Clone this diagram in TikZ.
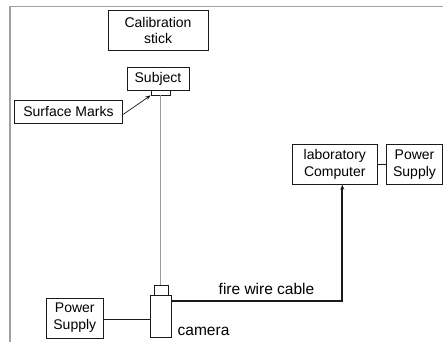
\documentclass[tikz,border=0pt]{standalone}
\usepackage{fontspec}
\setmainfont{Liberation Sans}
\usetikzlibrary{arrows.meta,positioning,calc}
\definecolor{ink}{HTML}{1A1A1A}
\definecolor{frame}{HTML}{A0A0A0}
\definecolor{rod}{HTML}{9C9C9C}

\begin{document}
\begin{tikzpicture}[
    x=1pt, y=-1pt,
    >={Stealth[length=5pt,width=4pt]},
    box/.style={draw=ink, line width=0.9pt, inner sep=0pt, align=center,
                font=\fontsize{14}{17}\selectfont},
    lbl/.style={inner sep=0pt, font=\fontsize{15.5}{18}\selectfont},
  ]
\useasboundingbox (0,0) rectangle (443,342);

% page frame
\draw[frame, line width=1.2pt] (443,6.7) -- (10,6.7) -- (10,342);

% calibration and subject
\node[box, minimum width=100pt, minimum height=40pt,
      font=\fontsize{14}{15.5}\selectfont] (calib) at (158,30.3)
  {Calibration\\stick};
\node[box, minimum width=62pt, minimum height=23pt] (subject) at (158,78.5)
  {Subject};
\node[box, minimum width=19pt, minimum height=5pt] (marks) at (160.5,92.5) {};
\node[box, minimum width=108.5pt, minimum height=23pt] (surface)
  at (68.5,111.7) {Surface Marks};
\draw[->, ink, line width=0.7pt] ([yshift=-2.7pt]surface.east)
  -- (marks.south west);

% camera
\node[box, minimum width=14pt, minimum height=10pt] (camtop) at (161,290) {};
\node[box, minimum width=21pt, minimum height=42pt] (camera) at (160.5,316) {};
\node[lbl, anchor=west] (camlbl) at (177.5,331.5) {camera};
\draw[rod, line width=1.8pt] (marks.south) -- (marks.south |- camtop.north);

% power supplies
\node[box, minimum width=57pt, minimum height=40pt] (pscam) at (74.8,318)
  {Power\\Supply};
\draw[ink, line width=0.8pt] ([yshift=-1pt]pscam.east)
  -- ([yshift=-1pt]pscam.east -| camera.west);

\node[box, minimum width=85pt, minimum height=40pt] (computer) at (334.8,164.3)
  {laboratory\\Computer};
\node[box, minimum width=56pt, minimum height=40pt] (pscomp) at (414.5,164.3)
  {Power\\Supply};
\draw[ink, line width=0.8pt] (computer.east) -- (pscomp.west);

% fire wire cable
\draw[->, ink, line width=1.9pt] ([yshift=-6pt]camera.north east)
  -| ([xshift=7.5pt]computer.south);
\node[lbl] (cablelbl) at (266.5,289) {fire wire cable};

\end{tikzpicture}
\end{document}
